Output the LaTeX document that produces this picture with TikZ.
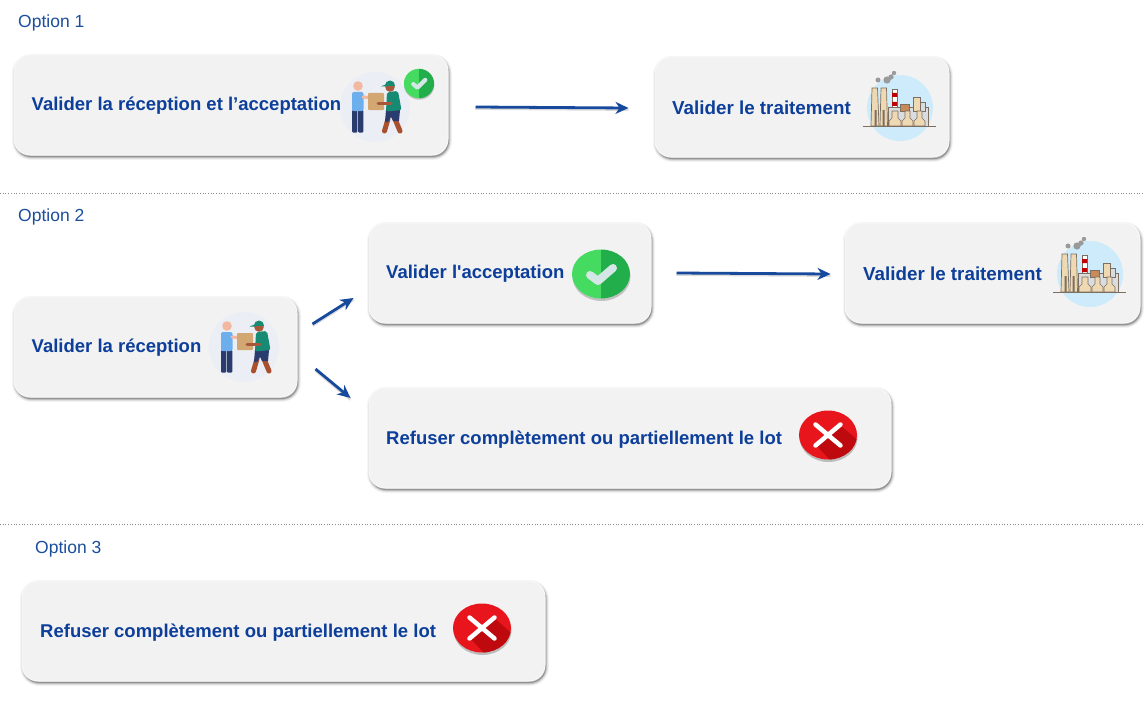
\documentclass[tikz,border=0pt]{standalone}
\usepackage{fontspec}
\setmainfont[Ligatures=TeXOff]{Liberation Sans}
\usetikzlibrary{calc,arrows.meta}
\definecolor{ink}{HTML}{0D3F9A}
\definecolor{optink}{HTML}{1B4E9B}
\definecolor{arrowc}{HTML}{174A9C}
\definecolor{cardfill}{HTML}{F2F2F2}
\definecolor{cardedge}{HTML}{F8F8F8}
\definecolor{sepc}{HTML}{8A8A8A}
\definecolor{gLight}{HTML}{45DB61}
\definecolor{gDark}{HTML}{22AE4B}
\definecolor{chk}{HTML}{D5E6E6}
\definecolor{rMain}{HTML}{E8161C}
\definecolor{rDark}{HTML}{BE0A0E}
\definecolor{halo}{HTML}{EBEEF4}
\definecolor{skin}{HTML}{F2B8A0}
\definecolor{shirtB}{HTML}{6DAEEC}
\definecolor{navy}{HTML}{2A3B6E}
\definecolor{parcel}{HTML}{D2A772}
\definecolor{teal}{HTML}{178A74}
\definecolor{brownL}{HTML}{A9502F}
\definecolor{skinD}{HTML}{A8583A}
\definecolor{sky}{HTML}{CDEBFA}
\definecolor{beige}{HTML}{EED9B3}
\definecolor{outl}{HTML}{7D6F60}
\definecolor{smoke}{HTML}{9A9A9A}
\definecolor{bldg}{HTML}{D9DDE0}
\definecolor{brick}{HTML}{C98A5A}
\tikzset{
  x=1pt,y=-1pt,
  card/.style={rectangle,rounded corners=16pt,inner sep=0pt,fill=cardfill,draw=cardedge,line width=1pt,
    preaction={draw=black,fill=black,opacity=.04,line width=6pt,transform canvas={xshift=1pt,yshift=-2pt}},
    preaction={draw=black,fill=black,opacity=.08,line width=4pt,transform canvas={xshift=1pt,yshift=-2pt}},
    preaction={draw=black,fill=black,opacity=.14,line width=2pt,transform canvas={xshift=1pt,yshift=-2pt}}},
  cardtext/.style={anchor=west,inner sep=0pt,text=ink,font=\fontsize{18.5}{20}\selectfont\bfseries},
  optlabel/.style={anchor=west,inner sep=0pt,text=optink,font=\fontsize{17.5}{19}\selectfont},
  sep/.style={draw=sepc,line width=.8pt,dash pattern=on .9pt off 1.8pt},
  flow/.style={draw=arrowc,line width=2.8pt,-{Stealth[length=13pt,width=12pt,inset=4pt]},
    preaction={draw=black,draw opacity=.14,line width=3pt,-,transform canvas={yshift=-1.4pt}}},
}
\newcommand{\carrier}[1]{\begin{scope}[shift={#1}]
  \fill[halo] (0,0) circle (35);
  % left man
  \fill[navy,rounded corners=1pt] (-23,3) rectangle (-17.6,25.5);
  \fill[navy,rounded corners=1pt] (-17,3) rectangle (-11.6,25.5);
  \fill[shirtB,rounded corners=2pt] (-23,-15) rectangle (-11.5,4);
  \fill[skin] (-17,-21) circle (4.8);
  \draw[skin,line width=3pt,line cap=round] (-12,-10) -- (-2,-9);
  % parcel
  \fill[parcel,rounded corners=.8pt] (-7,-14) rectangle (9,3);
  % right man
  \draw[brownL,line width=5pt,line cap=round] (13,12) -- (9.5,24);
  \draw[brownL,line width=5pt,line cap=round] (20,12) -- (25,24);
  \fill[navy] (11,3) -- (25,3) -- (24,14) -- (18,14) -- (16,10) -- (13,15) -- (10,15) -- cycle;
  \fill[teal,rounded corners=2pt] (12,-15) -- (23,-16) -- (26.5,3) -- (11,4.5) -- cycle;
  \draw[skinD,line width=3pt,line cap=round] (16,-3) -- (3,-3);
  \fill[skinD] (15,-20) circle (4.8);
  \begin{scope}
    \clip (9,-27) rectangle (22,-21.5);
    \fill[teal] (15,-21.5) circle (5);
  \end{scope}
  \fill[teal] (12,-23) -- (5.5,-20.5) -- (12,-20.5) -- cycle;
\end{scope}}
\newcommand{\factory}[1]{\begin{scope}[shift={#1}]
  \fill[sky] (0,0) circle (33);
  \fill[smoke] (-22,-28) circle (2.5) (-13,-28) circle (3.6) (-9,-31) circle (2.6) (-6,-35) circle (2.2);
  % chimneys
  \draw[outl,fill=beige,line width=.7pt] (-28,-20) -- (-22.5,-20) -- (-21,18) -- (-29,18) -- cycle;
  \draw[outl,fill=beige,line width=.7pt] (-19,-20) -- (-13.5,-20) -- (-12.5,18) -- (-20,18) -- cycle;
  \fill[outl] (-25.5,2) rectangle (-23.5,18) (-17.5,2) rectangle (-15.5,18);
  % striped chimney
  \draw[outl,fill=white,line width=.6pt] (-8,-19) rectangle (-3,10);
  \fill[red!75!black] (-8,-15) rectangle (-3,-11) (-8,-6) rectangle (-3,-2);
  % buildings
  \draw[outl,fill=bldg,line width=.6pt] (-12,-1) rectangle (28,18);
  \draw[outl,fill=brick,line width=.6pt] (0,-4) rectangle (9,3);
  \draw[outl,fill=beige,line width=.6pt] (13,-11) rectangle (20,3);
  \draw[outl,fill=bldg,line width=.6pt] (20,-6) rectangle (25,3);
  \draw[outl,fill=beige,line width=.6pt] (-8,3) -- (-2,3) -- (-2,10) -- (1,13) -- (1,18) -- (-11,18) -- (-11,13) -- (-8,10) -- cycle;
  \draw[outl,fill=beige,line width=.6pt] (5,3) -- (10,3) -- (10,10) -- (13,13) -- (13,18) -- (2,18) -- (2,13) -- (5,10) -- cycle;
  \draw[outl,fill=beige,line width=.6pt] (17,3) -- (22,3) -- (22,10) -- (25,13) -- (25,18) -- (14,18) -- (14,13) -- (17,10) -- cycle;
  % ground
  \draw[outl,line width=.6pt] (-37,18) -- (36,18);
\end{scope}}
\newcommand{\okmark}[3]{\begin{scope}[shift={#1},xscale=#2,yscale=#3]
  \fill[black,opacity=.2] (0.5,2.5) ellipse (29 and 24.5);
  \begin{scope}
    \clip (-30,-26) rectangle (0,26);
    \fill[gLight] (0,0) ellipse (29 and 24.5);
  \end{scope}
  \begin{scope}
    \clip (0,-26) rectangle (30,26);
    \fill[gDark] (0,0) ellipse (29 and 24.5);
  \end{scope}
  \draw[chk,line width=#2*8pt,line cap=round,line join=round] (-11,1) -- (-3,7) -- (12,-6);
\end{scope}}
\newcommand{\nomark}[1]{\begin{scope}[shift={#1}]
  \fill[black,opacity=.22] (0.5,2.5) ellipse (29 and 24.5);
  \fill[rMain] (0,0) ellipse (29 and 24.5);
  \begin{scope}
    \clip (0,0) ellipse (29 and 24.5);
    \fill[rDark] (-12,10) -- (12,-10) -- (40,14) -- (16,40) -- cycle;
  \end{scope}
  \draw[white,line width=4.5pt,line cap=round] (-12.5,-10.5) -- (12.5,10.5) (12.5,-10.5) -- (-12.5,10.5);
\end{scope}}
\begin{document}
\begin{tikzpicture}
\useasboundingbox (0,0) rectangle (1144,709);
% option labels
\node[optlabel] (opt1) at (18,23) {Option 1};
\node[optlabel] (opt2) at (18,217) {Option 2};
\node[optlabel] (opt3) at (35,549) {Option 3};
% separators
\coordinate (s1a) at (0,193); \coordinate (s1b) at (1144,193);
\coordinate (s2a) at (0,524); \coordinate (s2b) at (1144,524);
\draw[sep] (s1a) -- (s1b);
\draw[sep] (s2a) -- (s2b);
% cards
\node[card,minimum width=434pt,minimum height=100pt] (box1) at (231,105) {};
\node[card,minimum width=294pt,minimum height=100pt] (box2) at (802,107) {};
\node[card,minimum width=283pt,minimum height=100pt] (box3) at (155.5,347) {};
\node[card,minimum width=282pt,minimum height=100pt] (box4) at (510,273) {};
\node[card,minimum width=295pt,minimum height=100pt] (box5) at (992.5,273) {};
\node[card,minimum width=522pt,minimum height=100pt] (box6) at (630,438) {};
\node[card,minimum width=523pt,minimum height=100pt] (box7) at (283.5,631) {};
% card texts
\node[cardtext] (t1) at (31.5,106) {Valider la réception et l’acceptation};
\node[cardtext,font=\fontsize{18.8}{20}\selectfont\bfseries] (t2) at (672,108) {Valider le traitement};
\node[cardtext] (t3) at (31.5,347.5) {Valider la réception};
\node[cardtext] (t4) at (386,273.5) {Valider l'acceptation};
\node[cardtext,font=\fontsize{18.8}{20}\selectfont\bfseries] (t5) at (863,273.5) {Valider le traitement};
\node[cardtext] (t6) at (386,439.5) {Refuser complètement ou partiellement le lot};
\node[cardtext] (t7) at (40,632.5) {Refuser complètement ou partiellement le lot};
% icons
\carrier{(375,107)}
\okmark{(419,83.5)}{.52}{.6}
\factory{(900,108)}
\carrier{(244,347)}
\okmark{(601,274)}{1}{1}
\factory{(1090,274)}
\nomark{(828,435)}
\nomark{(482,628)}
% connectors
\draw[flow] ($(box1.east)+(27,2)$) -- ($(box2.west)+(-26,1)$);
\draw[flow] ($(box4.east)+(25,0)$) -- ($(box5.west)+(-14,1)$);
\draw[flow] ($(box3.east)+(15,-23)$) -- ($(box4.west)+(-15,25)$);
\draw[flow] ($(box3.east)+(18,22)$) -- ($(box6.west)+(-18,-40)$);
\end{tikzpicture}
\end{document}
